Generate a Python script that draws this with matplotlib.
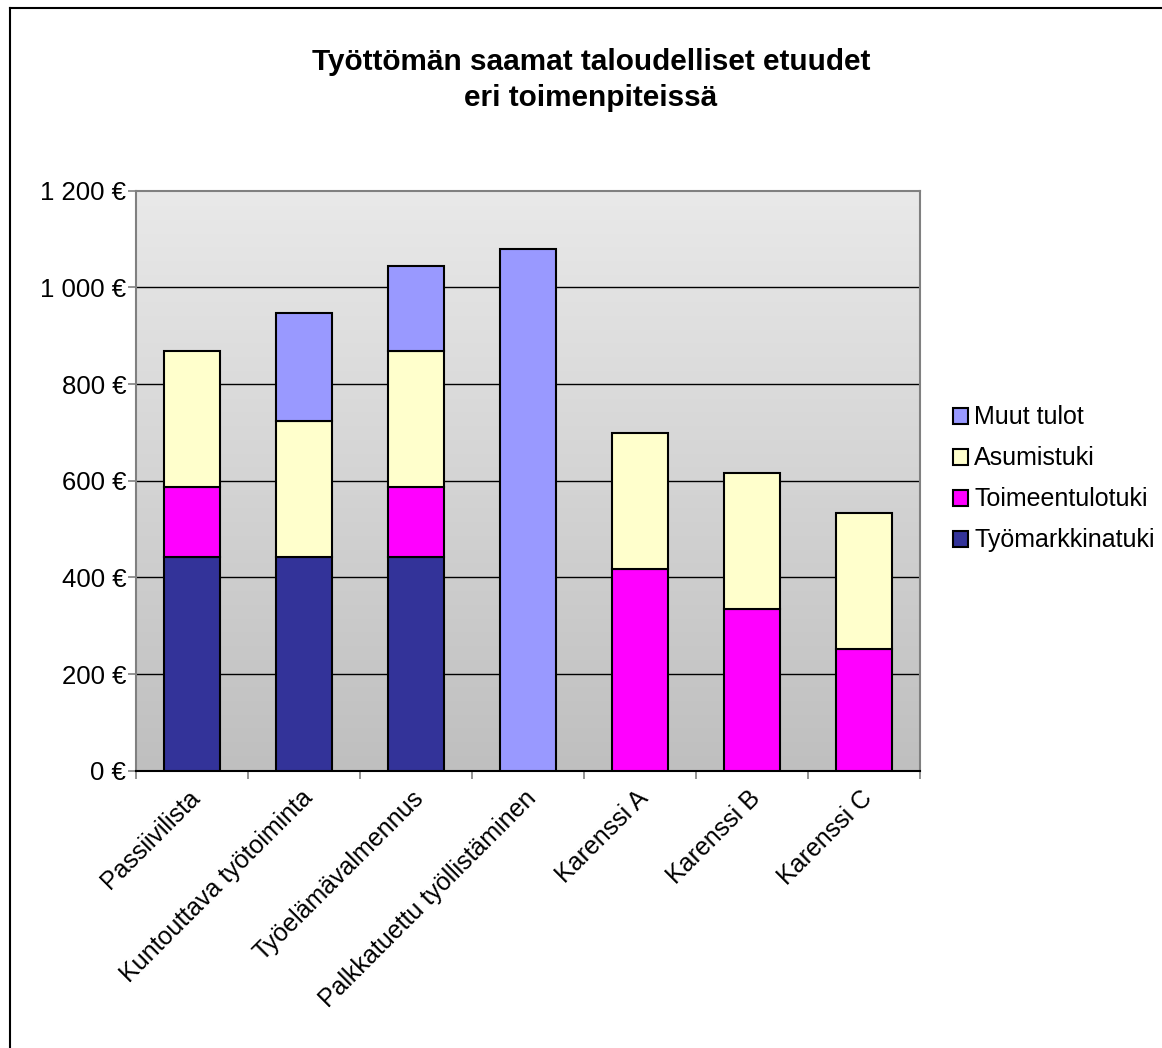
import numpy as np
import matplotlib
matplotlib.use('Agg')
from matplotlib import pyplot as plt
from matplotlib.lines import Line2D
from matplotlib.transforms import ScaledTranslation

plt.rcParams['font.family'] = ['Liberation Sans', 'DejaVu Sans']

#  categories and stacked series (euro / month)
categories = ['Passiivilista', 'Kuntouttava työtoiminta', 'Työelämävalmennus',
              'Palkkatuettu työllistäminen', 'Karenssi A', 'Karenssi B', 'Karenssi C']
tyomarkkinatuki = [442, 442, 442, 0, 0, 0, 0]
toimeentulotuki = [145, 0, 145, 0, 417, 334, 252]
asumistuki = [282, 282, 282, 0, 282, 282, 282]
muut_tulot = [0, 223, 175, 1080, 0, 0, 0]
yticks = [0, 200, 400, 600, 800, 1000, 1200]
ytick_labels = ['0 €', '200 €', '400 €', '600 €', '800 €', '1 000 €', '1 200 €']

series = [('Työmarkkinatuki', tyomarkkinatuki, '#333399'),
          ('Toimeentulotuki', toimeentulotuki, '#FF00FF'),
          ('Asumistuki', asumistuki, '#FFFFCC'),
          ('Muut tulot', muut_tulot, '#9999FF')]

W, H = 1162, 1048
fig = plt.figure(figsize=(W / 100, H / 100), dpi=100)
ax = fig.add_axes([136 / W, 1 - 770.7 / H, 784 / W, 580 / H])

x = np.arange(len(categories))
xlim = (-0.5, len(categories) - 0.5)

#  gray gradient background of the plot area, light at the top
grad = np.linspace(0, 1, 256).reshape(-1, 1)
cmap = matplotlib.colors.LinearSegmentedColormap.from_list('bg', ['#bfbfbf', '#e9e9e9'])
ax.imshow(grad, cmap=cmap, extent=[xlim[0], xlim[1], 0, 1200], origin='lower',
          aspect='auto', zorder=0)
ax.set_xlim(*xlim)
ax.set_ylim(0, 1200)

for y in yticks[1:-1]:
    ax.axhline(y, color='black', lw=1.0, zorder=1)

bottom = np.zeros(len(categories))
handles = []
for name, vals, color in series:
    vals = np.array(vals, dtype=float)
    idx = np.nonzero(vals)[0]
    bc = ax.bar(x[idx], vals[idx], width=0.5, bottom=bottom[idx], color=color,
                edgecolor='black', linewidth=1.5, zorder=3, label=name)
    handles.append(bc)
    bottom += vals

ax.set_yticks(yticks)
ax.set_yticklabels(ytick_labels, fontsize=18.5)
ax.set_xticks(x)
ax.set_xticklabels(categories, fontsize=18, rotation=45, ha='right', va='top',
                   rotation_mode='anchor')
ax.set_xticks(np.arange(len(categories) + 1) - 0.5, minor=True)
ax.tick_params(axis='x', which='major', length=0, pad=11)
ax.tick_params(axis='x', which='minor', length=6, width=1.2, color='#808080', direction='out')
ax.tick_params(axis='y', length=6, width=1.2, color='#808080', direction='out', pad=1)
for lbl in ax.get_xticklabels():
    lbl.set_transform(lbl.get_transform() + ScaledTranslation(-0.04, 0, fig.dpi_scale_trans))

for side in ['top', 'right', 'left']:
    ax.spines[side].set_color('#808080')
    ax.spines[side].set_linewidth(1.5)
ax.spines['bottom'].set_color('black')
ax.spines['bottom'].set_linewidth(1.5)

leg = fig.legend(handles[::-1], [s[0] for s in series][::-1], loc='center left',
                 bbox_to_anchor=(943 / W, 1 - 479 / H), frameon=False, fontsize=18,
                 handlelength=0.6, handleheight=0.6, handletextpad=0.25, labelspacing=0.68,
                 borderaxespad=0)

fig.text(591 / W, 1 - 70 / H, 'Työttömän saamat taloudelliset etuudet', ha='center',
         va='baseline', fontsize=21.4, fontweight='bold')
fig.text(591 / W, 1 - 106 / H, 'eri toimenpiteissä', ha='center', va='baseline',
         fontsize=21.4, fontweight='bold')

#  chart area border (left and top edges)
fig.add_artist(Line2D([9.5 / W, 9.5 / W], [0, 1 - 7.5 / H], color='black', lw=1.5,
                      transform=fig.transFigure))
fig.add_artist(Line2D([9.5 / W, 1], [1 - 7.5 / H, 1 - 7.5 / H], color='black', lw=1.5,
                      transform=fig.transFigure))

fig.savefig('out.png', dpi=100)
